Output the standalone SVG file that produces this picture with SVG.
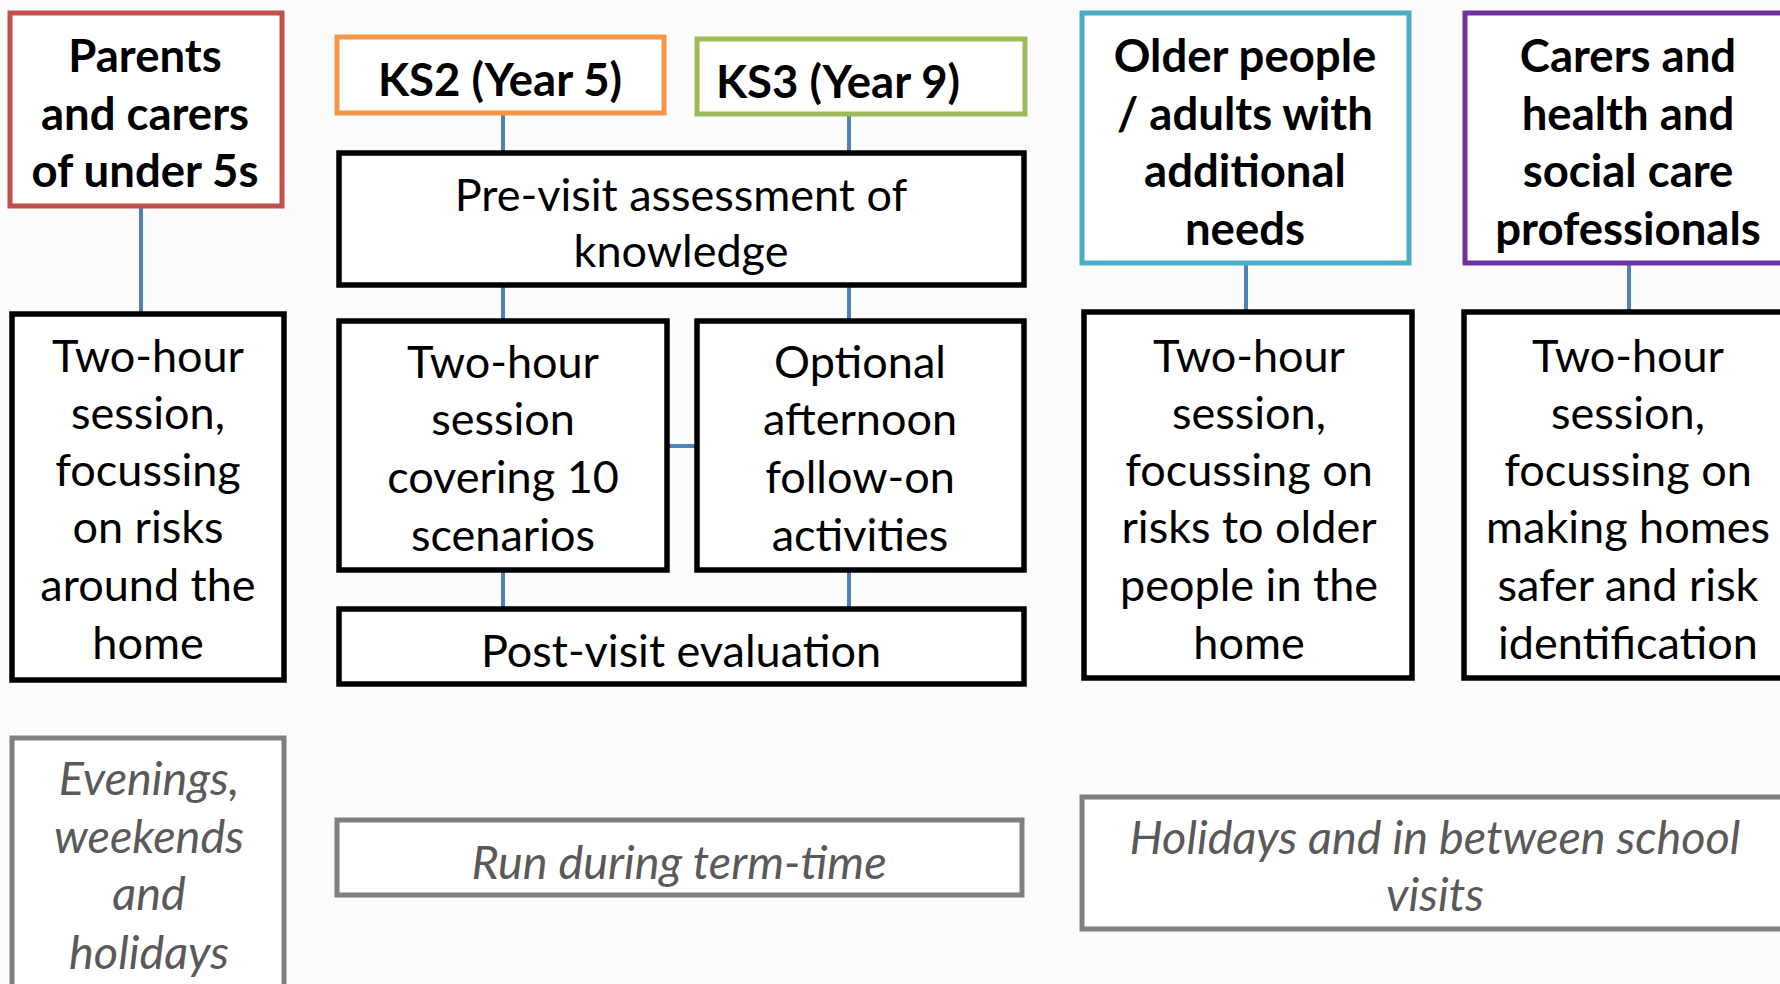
<svg xmlns="http://www.w3.org/2000/svg" width="1780" height="984" viewBox="0 0 1780 984">
<style>
.t{font-family:Lato,"Open Sans",sans-serif;font-size:45px;fill:#000;text-anchor:middle}
.b{font-weight:bold;font-size:45.5px}
.i{font-style:italic;fill:#595959;font-size:46.8px}
.box{fill:#fff;stroke:#000;stroke-width:5.5}
.gbox{fill:#fff;stroke:#7f7f7f;stroke-width:5}
.conn line{stroke:#4f81bd;stroke-width:4}
</style>
<rect x="0" y="0" width="1780" height="984" fill="#fcfcfc"/>
<g class="conn" id="connectors">
<line x1="141" y1="208" x2="141" y2="312"/>
<line x1="503" y1="115" x2="503" y2="151"/>
<line x1="849" y1="116" x2="849" y2="151"/>
<line x1="503" y1="287" x2="503" y2="319"/>
<line x1="849" y1="287" x2="849" y2="319"/>
<line x1="669" y1="446" x2="695" y2="446"/>
<line x1="503" y1="572" x2="503" y2="607"/>
<line x1="849" y1="572" x2="849" y2="607"/>
<line x1="1246" y1="265" x2="1246" y2="310"/>
<line x1="1629" y1="265" x2="1629" y2="310"/>
</g>
<g id="parents">
<rect x="10" y="13" width="272" height="193" fill="#fff" stroke="#c0504d" stroke-width="5"/>
<text class="t b" x="145" y="72">Parents</text>
<text class="t b" x="145" y="130">and carers</text>
<text class="t b" x="145" y="187">of under 5s</text>
</g>
<g id="session-parents">
<rect class="box" x="12" y="314" width="272" height="366"/>
<text class="t" x="148" y="372">Two-hour</text>
<text class="t" x="148" y="429">session,</text>
<text class="t" x="148" y="486">focussing</text>
<text class="t" x="148" y="543">on risks</text>
<text class="t" x="148" y="601">around the</text>
<text class="t" x="148" y="659">home</text>
</g>
<g id="evenings">
<rect class="gbox" x="12" y="738" width="272" height="260"/>
<text class="t i" x="149" y="795">Evenings,</text>
<text class="t i" x="149" y="853">weekends</text>
<text class="t i" x="149" y="910">and</text>
<text class="t i" x="149" y="969">holidays</text>
</g>
<g id="ks2">
<rect x="337" y="37" width="327" height="76" fill="#fff" stroke="#f79646" stroke-width="5"/>
<text class="t b" x="500" y="96">KS2 (Year 5)</text>
</g>
<g id="ks3">
<rect x="697" y="39" width="328" height="75" fill="#fff" stroke="#9bbb59" stroke-width="5"/>
<text class="t b" x="838" y="98">KS3 (Year 9)</text>
</g>
<g id="pre-visit">
<rect class="box" x="339" y="153" width="685" height="132"/>
<text class="t" x="681" y="211">Pre-visit assessment of</text>
<text class="t" x="681" y="267">knowledge</text>
</g>
<g id="session-school">
<rect class="box" x="339" y="321" width="328" height="249"/>
<text class="t" x="503" y="378">Two-hour</text>
<text class="t" x="503" y="435">session</text>
<text class="t" x="503" y="493">covering 10</text>
<text class="t" x="503" y="551">scenarios</text>
</g>
<g id="optional">
<rect class="box" x="697" y="321" width="327" height="249"/>
<text class="t" x="860" y="378">Optional</text>
<text class="t" x="860" y="435">afternoon</text>
<text class="t" x="860" y="493">follow-on</text>
<text class="t" x="860" y="551">activities</text>
</g>
<g id="post-visit">
<rect class="box" x="339" y="609" width="685" height="75"/>
<text class="t" x="681" y="667">Post-visit evaluation</text>
</g>
<g id="term-time">
<rect class="gbox" x="337" y="820" width="685" height="75"/>
<text class="t i" x="679" y="879">Run during term-time</text>
</g>
<g id="older">
<rect x="1082" y="13" width="327" height="250" fill="#fff" stroke="#4bacc6" stroke-width="5"/>
<text class="t b" x="1245" y="72">Older people</text>
<text class="t b" x="1245" y="130">/ adults with</text>
<text class="t b" x="1245" y="187">additional</text>
<text class="t b" x="1245" y="245">needs</text>
</g>
<g id="session-older">
<rect class="box" x="1084" y="312" width="328" height="366"/>
<text class="t" x="1249" y="372">Two-hour</text>
<text class="t" x="1249" y="429">session,</text>
<text class="t" x="1249" y="486">focussing on</text>
<text class="t" x="1249" y="543">risks to older</text>
<text class="t" x="1249" y="601">people in the</text>
<text class="t" x="1249" y="659">home</text>
</g>
<g id="carers">
<rect x="1465" y="13" width="330" height="250" fill="#fff" stroke="#7030a0" stroke-width="5"/>
<text class="t b" x="1628" y="72">Carers and</text>
<text class="t b" x="1628" y="130">health and</text>
<text class="t b" x="1628" y="187">social care</text>
<text class="t b" x="1628" y="245">professionals</text>
</g>
<g id="session-carers">
<rect class="box" x="1464" y="312" width="330" height="366"/>
<text class="t" x="1628" y="372">Two-hour</text>
<text class="t" x="1628" y="429">session,</text>
<text class="t" x="1628" y="486">focussing on</text>
<text class="t" x="1628" y="543">making homes</text>
<text class="t" x="1628" y="601">safer and risk</text>
<text class="t" x="1628" y="659">identification</text>
</g>
<g id="holidays">
<rect class="gbox" x="1082" y="797" width="710" height="132"/>
<text class="t i" x="1435" y="854">Holidays and in between school</text>
<text class="t i" x="1435" y="911">visits</text>
</g>
</svg>
